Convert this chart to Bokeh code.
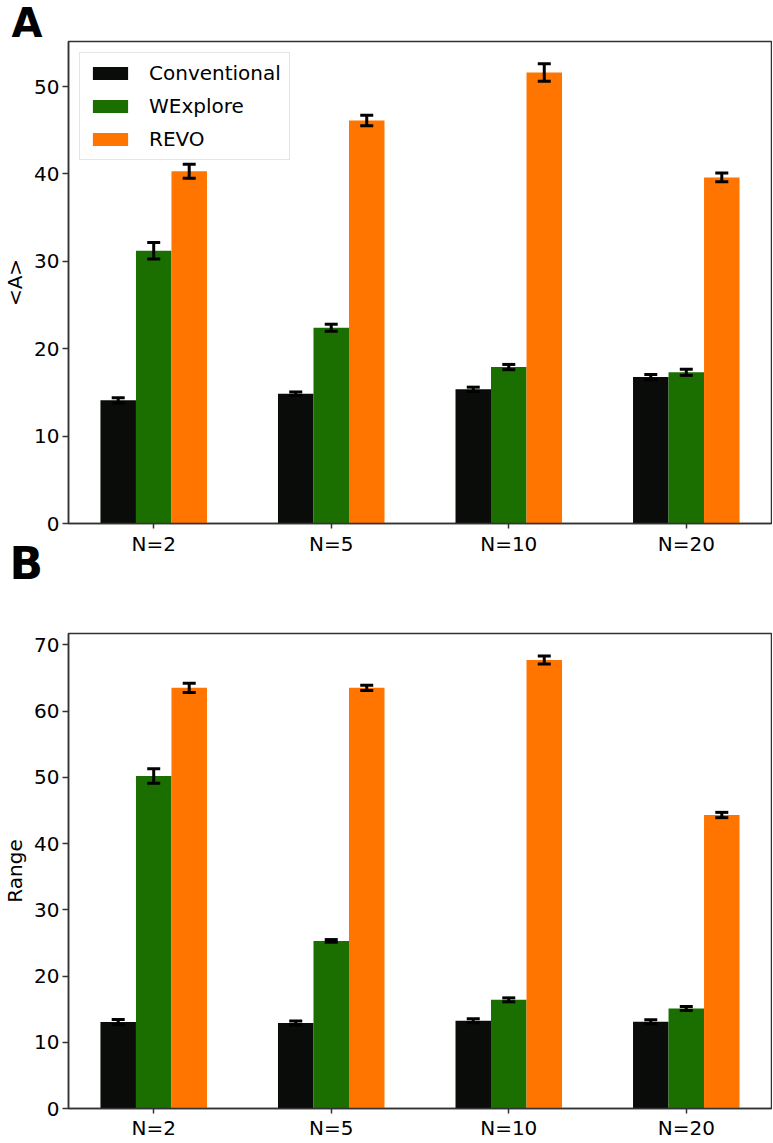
import numpy as np
from bokeh.plotting import figure
from bokeh.models import (ColumnDataSource, Whisker, TeeHead, Range1d,
                          FixedTicker)
from bokeh.layouts import column
from bokeh.embed import file_html
from bokeh.resources import INLINE

# ---------------- data ----------------
categories = ["N=2", "N=5", "N=10", "N=20"]
methods = ["Conventional", "WExplore", "REVO"]
colors = ["#0a0c0a", "#1b6f00", "#ff7500"]
offsets = [-0.2, 0.0, 0.2]

a_conv = [14.1, 14.85, 15.35, 16.75]
a_conv_err = [0.3, 0.2, 0.25, 0.3]
a_wexp = [31.2, 22.4, 17.9, 17.3]
a_wexp_err = [0.95, 0.4, 0.3, 0.35]
a_revo = [40.3, 46.1, 51.6, 39.6]
a_revo_err = [0.8, 0.6, 1.0, 0.5]

b_conv = [13.05, 12.9, 13.25, 13.1]
b_conv_err = [0.4, 0.3, 0.3, 0.3]
b_wexp = [50.2, 25.3, 16.4, 15.1]
b_wexp_err = [1.1, 0.2, 0.3, 0.3]
b_revo = [63.5, 63.5, 67.7, 44.3]
b_revo_err = [0.7, 0.4, 0.6, 0.4]

a_ylabel = "<A>"
b_ylabel = "Range"
a_ticks = [0, 10, 20, 30, 40, 50]
b_ticks = [0, 10, 20, 30, 40, 50, 60, 70]
a_ymax = 55.15
b_ymax = 71.7

FONT = "DejaVu Sans"
W = 772
BORDER_L, BORDER_R = 66, 1
XMIN, XMAX = -0.48, 3.48
FRAME_C = "#333333"


def panel(series, errs, ylabel, ticks, ymax, height, top, bottom,
          letter, letter_size, letter_valign, letter_standoff,
          letter_offset, xlabel_standoff, legend):
    p = figure(width=W, height=height, output_backend="svg",
               toolbar_location=None,
               x_range=Range1d(XMIN, XMAX), y_range=Range1d(0, ymax),
               min_border_left=BORDER_L, min_border_right=BORDER_R,
               min_border_top=top, min_border_bottom=bottom)
    p.background_fill_color = "white"
    p.border_fill_color = "white"
    p.outline_line_color = FRAME_C
    p.outline_line_width = 1.5
    p.xgrid.visible = False
    p.ygrid.visible = False

    # panel letter as the figure title
    p.title.text = letter
    p.title.text_font = FONT
    p.title.text_font_size = letter_size
    p.title.text_font_style = "bold"
    p.title.text_color = "black"
    p.title.align = "left"
    p.title.vertical_align = letter_valign
    p.title.offset = letter_offset
    p.title.standoff = letter_standoff

    x0 = np.arange(len(categories))
    for vals, err, name, col, off in zip(series, errs, methods, colors, offsets):
        xs = x0 + off
        v = np.array(vals)
        e = np.array(err)
        src = ColumnDataSource(dict(x=xs, top=v, upper=v + e, lower=v - e))
        if legend:
            p.vbar(x="x", top="top", bottom=0, width=0.2, source=src,
                   fill_color=col, line_color=None, legend_label=name)
        else:
            p.vbar(x="x", top="top", bottom=0, width=0.2, source=src,
                   fill_color=col, line_color=None)
        wh = Whisker(source=src, base="x", upper="upper", lower="lower",
                     dimension="height", line_color="black", line_width=3,
                     upper_head=TeeHead(size=13, line_width=3, line_color="black"),
                     lower_head=TeeHead(size=13, line_width=3, line_color="black"),
                     level="overlay")
        p.add_layout(wh)

    for ax in (p.xaxis[0], p.yaxis[0]):
        ax.axis_line_color = FRAME_C
        ax.axis_line_width = 1.5
        ax.major_tick_line_color = FRAME_C
        ax.major_tick_line_width = 1.5
        ax.major_tick_out = 6
        ax.major_tick_in = 0
        ax.minor_tick_line_color = None
        ax.major_label_text_font = FONT
        ax.major_label_text_font_size = "20px"
        ax.major_label_text_color = "black"
    p.xaxis.major_tick_out = 5
    p.xaxis.ticker = FixedTicker(ticks=list(range(len(categories))))
    p.xaxis.major_label_overrides = {i: c for i, c in enumerate(categories)}
    p.xaxis.major_label_standoff = xlabel_standoff
    p.yaxis.ticker = FixedTicker(ticks=ticks)
    p.yaxis.major_label_standoff = 3
    p.yaxis.axis_label = ylabel
    p.yaxis.axis_label_text_font = FONT
    p.yaxis.axis_label_text_font_size = "20px"
    p.yaxis.axis_label_text_font_style = "normal"
    p.yaxis.axis_label_text_color = "black"
    p.yaxis.axis_label_standoff = 4

    if legend:
        lg = p.legend[0]
        lg.location = "top_left"
        lg.margin = 11
        lg.padding = 8
        lg.spacing = 9
        lg.glyph_width = 44
        lg.glyph_height = 16
        lg.label_height = 23
        lg.label_standoff = 17
        lg.label_text_font = FONT
        lg.label_text_font_size = "20px"
        lg.label_text_color = "black"
        lg.border_line_color = "#cccccc"
        lg.border_line_width = 1
        lg.background_fill_alpha = 0.8
    return p


pa = panel([a_conv, a_wexp, a_revo], [a_conv_err, a_wexp_err, a_revo_err],
           a_ylabel, a_ticks, a_ymax, height=558, top=41, bottom=35,
           letter="A", letter_size="40px", letter_valign="bottom",
           letter_standoff=-8, letter_offset=-57, xlabel_standoff=3,
           legend=True)
pb = panel([b_conv, b_wexp, b_revo], [b_conv_err, b_wexp_err, b_revo_err],
           b_ylabel, b_ticks, b_ymax, height=648, top=0, bottom=34,
           letter="B", letter_size="44px", letter_valign="top",
           letter_standoff=86, letter_offset=-59, xlabel_standoff=2,
           legend=False)
# let panel B's (transparent) top margin slide under panel A's tick labels
pb.border_fill_alpha = 0
pb.margin = (-64, 0, 0, 0)

layout = column(pa, pb, spacing=0)
open("out.html", "w").write(file_html(layout, INLINE))
